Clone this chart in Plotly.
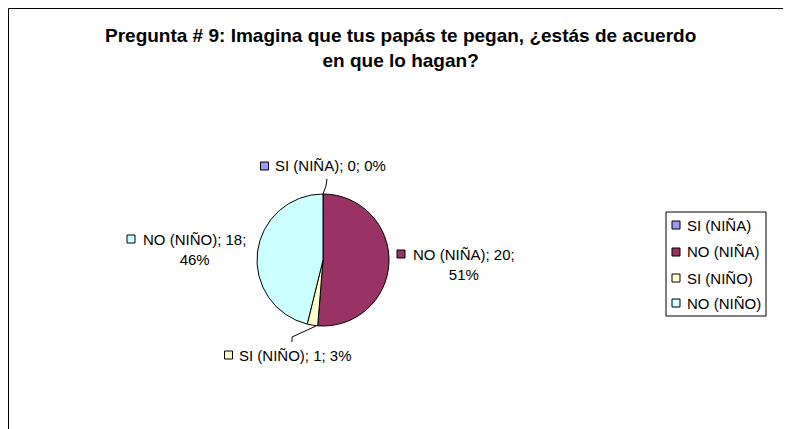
import plotly.graph_objects as go

# ---- data ----
categories = ["SI (NIÑA)", "NO (NIÑA)", "SI (NIÑO)", "NO (NIÑO)"]
values = [0, 20, 1, 18]
colors = ["#9999FF", "#993366", "#FFFFCC", "#CCFFFF"]
title_text = "Pregunta # 9: Imagina que tus papás te pegan, ¿estás de acuerdo<br>en que lo hagan?"

W, H = 791, 429
OFF = 8  # page body margin
FONT = "Liberation Sans, Arial, sans-serif"


def px(x):
    return (x - OFF) / W


def py(y):
    return 1 - (y - OFF) / H


total = sum(values)
pcts = [round(v / total * 100) for v in values]

# pie geometry (screen pixels)
cx, cy, r = 323, 260, 66

fig = go.Figure()
fig.add_trace(go.Pie(
    labels=categories,
    values=values,
    marker=dict(colors=colors, line=dict(color="black", width=1)),
    sort=False,
    direction="clockwise",
    rotation=0,
    textinfo="none",
    hoverinfo="label+value+percent",
    domain=dict(x=[px(cx - r), px(cx + r)], y=[py(cy + r), py(cy - r)]),
    showlegend=False,
))

LBL = 15
# (marker center x, first line y, text x, two-line?)
label_pos = [
    (264.5, 166, 273, False),
    (401, 254, 464, True),
    (228.5, 355, 237, False),
    (131, 239, 194, True),
]

annotations = []
shapes = []
for cat, v, p, col, (mx, ty, tx, two) in zip(categories, values, pcts, colors, label_pos):
    if two:
        annotations.append(dict(
            x=px(tx), y=py(ty - 10), xref="paper", yref="paper",
            text=f"{cat}; {v};<br>{p}%", showarrow=False,
            xanchor="center", yanchor="top", align="center",
            font=dict(family=FONT, size=LBL, color="black"),
        ))
    else:
        annotations.append(dict(
            x=px(tx), y=py(ty), xref="paper", yref="paper",
            text=f"{cat}; {v}; {p}%", showarrow=False,
            xanchor="left", yanchor="middle", align="left",
            font=dict(family=FONT, size=LBL, color="black"),
        ))
    shapes.append(dict(
        type="rect", xref="paper", yref="paper",
        x0=px(mx - 4), x1=px(mx + 4), y0=py(ty + 4), y1=py(ty - 4),
        fillcolor=col, line=dict(color="black", width=1),
    ))

# leader lines
shapes.append(dict(type="path", xref="paper", yref="paper",
                   path=f"M {px(327)},{py(179)} L {px(326)},{py(186)} L {px(323)},{py(194)}",
                   line=dict(color="black", width=1)))
shapes.append(dict(type="path", xref="paper", yref="paper",
                   path=f"M {px(292)},{py(342)} L {px(292)},{py(337)} L {px(316)},{py(326)}",
                   line=dict(color="black", width=1)))

# legend (box, swatches, text) built from the category list
LX0, LX1, LY0, LY1 = 666, 766, 212, 316
legend_y = [225, 252, 278, 303]
shapes.append(dict(type="rect", xref="paper", yref="paper",
                   x0=px(LX0), x1=px(LX1), y0=py(LY1), y1=py(LY0),
                   line=dict(color="black", width=1), fillcolor="white", layer="below"))
for cat, col, ly in zip(categories, colors, legend_y):
    shapes.append(dict(
        type="rect", xref="paper", yref="paper",
        x0=px(672), x1=px(680), y0=py(ly + 4), y1=py(ly - 4),
        fillcolor=col, line=dict(color="black", width=1),
    ))
    annotations.append(dict(
        x=px(685), y=py(ly), xref="paper", yref="paper", text=cat,
        showarrow=False, xanchor="left", yanchor="middle",
        font=dict(family=FONT, size=15, color="black"),
    ))

# outer chart frame
shapes.append(dict(type="rect", xref="paper", yref="paper",
                   x0=px(8.5), x1=px(W + 40), y0=py(H + 40), y1=py(8.5),
                   line=dict(color="black", width=1), fillcolor="rgba(0,0,0,0)"))

annotations.append(dict(
    x=px(400), y=py(47.5), xref="paper", yref="paper", text="<b>" + title_text + "</b>",
    showarrow=False, xanchor="center", yanchor="middle", align="center",
    font=dict(family=FONT, size=19, color="black"),
))

fig.update_layout(
    width=W, height=H,
    margin=dict(l=0, r=0, t=0, b=0),
    paper_bgcolor="white", plot_bgcolor="white",
    annotations=annotations, shapes=shapes,
    showlegend=False,
)

fig.write_html("out.html")
